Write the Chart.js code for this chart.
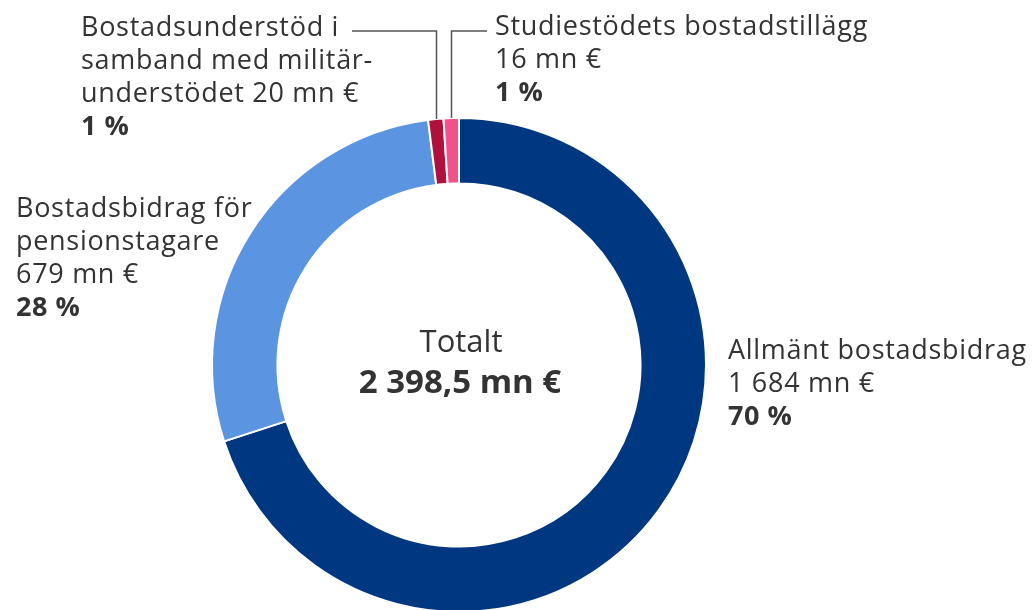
<!DOCTYPE html>
<html lang="sv">
<head>
<meta charset="utf-8">
<title>Bostadsbidrag</title>
<script src="https://cdn.jsdelivr.net/npm/chart.js@4/dist/chart.umd.min.js"></script>
<style>
  html, body { margin: 0; padding: 0; background: #fff; overflow: hidden; }
  #wrap { position: relative; width: 1034px; height: 613px; }
</style>
</head>
<body>
<div id="wrap"><canvas id="chart"></canvas></div>
<script>
// ── Data ──────────────────────────────────────────────
const categories = [
  'Allmänt bostadsbidrag',
  'Bostadsbidrag för pensionstagare',
  'Bostadsunderstöd i samband med militärunderstödet',
  'Studiestödets bostadstillägg',
];
const amounts = ['1 684 mn €', '679 mn €', '20 mn €', '16 mn €'];
const shares = [70, 28, 1, 1];           // per cent, drawn as slices
const shareLabels = ['70 %', '28 %', '1 %', '1 %'];
const totalTitle = 'Totalt';
const totalValue = '2 398,5 mn €';

// label text lines (regular lines + bold share line)
const labelLines = [
  ['Allmänt bostadsbidrag', amounts[0]],
  ['Bostadsbidrag för', 'pensionstagare', amounts[1]],
  ['Bostadsunderstöd i', 'samband med militär-', 'understödet ' + amounts[2]],
  ['Studiestödets bostadstillägg', amounts[3]],
];

const colors = ['#003781', '#5b95e2', '#b0103e', '#f2528a'];

const FONT = "'Open Sans', 'Noto Sans', sans-serif";
const TEXT = '#333333';
const LINE_H = 33;

// where each label block starts (x, first baseline) and leader target
const labelPos = [
  { x: 728, y: 359 },
  { x: 16,  y: 217 },
  { x: 81,  y: 36 },
  { x: 495, y: 35 },
];
const leaders = {
  2: { y: 31, toX: 352 },
  3: { y: 31, toX: 487 },
};

// ── Labels plugin ─────────────────────────────────────
const labelsPlugin = {
  id: 'sliceLabels',
  afterDraw(chart) {
    const ctx = chart.ctx;
    const meta = chart.getDatasetMeta(0);
    ctx.save();

    // leader lines for the two thin slices
    ctx.strokeStyle = '#555555';
    ctx.lineWidth = 1.5;
    Object.keys(leaders).forEach((k) => {
      const i = Number(k);
      const arc = meta.data[i];
      const mid = (arc.startAngle + arc.endAngle) / 2;
      const px = arc.x + Math.cos(mid) * arc.outerRadius;
      const py = arc.y + Math.sin(mid) * arc.outerRadius;
      ctx.beginPath();
      ctx.moveTo(Math.round(px) + 0.5, py);
      ctx.lineTo(Math.round(px) + 0.5, leaders[k].y);
      ctx.lineTo(leaders[k].toX, leaders[k].y);
      ctx.stroke();
    });

    // label blocks
    ctx.fillStyle = TEXT;
    ctx.textAlign = 'left';
    ctx.textBaseline = 'alphabetic';
    labelLines.forEach((lines, i) => {
      const p = labelPos[i];
      ctx.font = `400 27px ${FONT}`;
      ctx.letterSpacing = '0.7px';
      lines.forEach((ln, j) => ctx.fillText(ln, p.x, p.y + j * LINE_H));
      ctx.font = `700 27px ${FONT}`;
      ctx.letterSpacing = '0.5px';
      ctx.fillText(shareLabels[i], p.x, p.y + lines.length * LINE_H);
    });

    // centre text
    const cx = meta.data[0].x;
    ctx.textAlign = 'center';
    ctx.letterSpacing = '0px';
    ctx.font = `400 31px ${FONT}`;
    ctx.fillText(totalTitle, cx + 2, 352);
    ctx.font = `700 33px ${FONT}`;
    ctx.fillText(totalValue, cx + 1, 393);

    ctx.restore();
  },
};

new Chart(document.getElementById('chart'), {
  type: 'doughnut',
  data: {
    labels: categories,
    datasets: [{
      data: shares,
      backgroundColor: colors,
      borderColor: '#ffffff',
      borderWidth: 2,
    }],
  },
  options: {
    responsive: true,
    maintainAspectRatio: false,
    animation: false,
    cutout: '73.5%',
    layout: { padding: { left: 211, right: 327, top: 117, bottom: 0 } },
    plugins: {
      legend: { display: false },
      tooltip: { enabled: false },
    },
  },
  plugins: [labelsPlugin],
});
</script>
</body>
</html>
